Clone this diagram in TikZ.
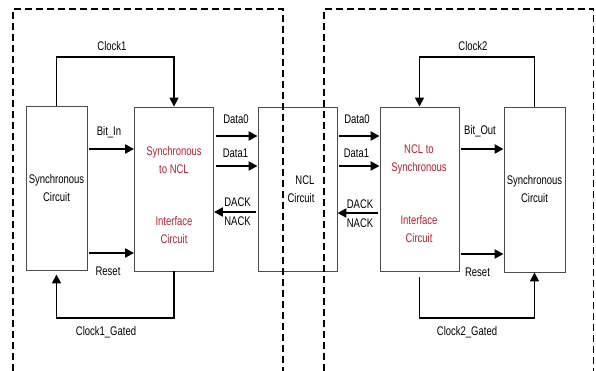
\documentclass[tikz,border=0pt]{standalone}
\usepackage{fontspec}
\setmainfont[FakeStretch=0.76]{Liberation Sans}
\usetikzlibrary{arrows.meta}
\definecolor{ifred}{RGB}{190,30,45}
\tikzset{
  blk/.style={draw=black!70,line width=0.9pt,inner sep=0pt,align=center,font=\fontsize{12.5}{18}\selectfont},
  lbl/.style={inner sep=0pt,align=center,font=\fontsize{12.5}{18}\selectfont},
  redlbl/.style={lbl,text=ifred},
  sig/.style={line width=2.4pt,shorten <=2pt,-{Triangle[length=9pt,width=9pt]}},
  clk/.style={line width=1.6pt,-{Triangle[length=9pt,width=9pt]}},
  frame/.style={line width=1.3pt,dash pattern=on 7pt off 4pt}
}
\begin{document}
\begin{tikzpicture}[x=1pt,y=-1pt]
\useasboundingbox (0,0) rectangle (596,371);
\draw (56.5,188) node[blk,minimum width=61pt,minimum height=164pt](sync1) {Synchronous\\Circuit};
\draw (174,189) node[blk,minimum width=79pt,minimum height=164pt](s2n) {};
\draw (297.5,189) node[blk,minimum width=79pt,minimum height=164pt](ncl) {};
\draw (419.5,189) node[blk,minimum width=79pt,minimum height=164pt](n2s) {};
\draw (534.5,189.5) node[blk,minimum width=61pt,minimum height=165pt](sync2) {Synchronous\\Circuit};
\draw (174,160) node[redlbl](s2ntop) {Synchronous\\to NCL};
\draw (174,230.5) node[redlbl](s2nbot) {Interface\\Circuit};
\draw (301,189) node[lbl,align=right](ncltxt) {NCL\\Circuit};
\draw (419,159.5) node[redlbl](n2stop) {NCL to\\Synchronous};
\draw (419,229.5) node[redlbl](n2sbot) {Interface\\Circuit};
\draw[sig] (sync1.east |- 0,149) -- (s2n.west |- 0,149);
\draw[sig] (sync1.east |- 0,253) -- (s2n.west |- 0,253);
\draw[sig] (s2n.east |- 0,136) -- (ncl.west |- 0,136);
\draw[sig] (s2n.east |- 0,166) -- (ncl.west |- 0,166);
\draw[sig] (ncl.west |- 0,212) -- (s2n.east |- 0,212);
\draw[sig] (ncl.east |- 0,136) -- (n2s.west |- 0,136);
\draw[sig] (ncl.east |- 0,166) -- (n2s.west |- 0,166);
\draw[sig] (n2s.west |- 0,213) -- (ncl.east |- 0,213);
\draw[sig] (n2s.east |- 0,149) -- (sync2.west |- 0,149);
\draw[sig] (n2s.east |- 0,254) -- (sync2.west |- 0,254);
\draw[clk] (sync1.north) -- (sync1.north |- 0,57) -| (s2n.north);
\draw[clk,shorten >=4pt] (s2n.south) -- (s2n.south |- 0,318) -| (sync1.south);
\draw[clk] (sync2.north) -- (sync2.north |- 0,57) -| (n2s.north);
\draw[clk,shorten <=6pt] (n2s.south) -- (n2s.south |- 0,318) -| (sync2.south);
\draw (112,46) node[lbl](lclk1) {Clock1};
\draw (109,132) node[lbl](lbitin) {Bit\_In};
\draw (108,271) node[lbl](lrst1) {Reset};
\draw (106,332) node[lbl](lgate1) {Clock1\_Gated};
\draw (236,119) node[lbl](ld0a) {Data0};
\draw (235.5,153.5) node[lbl](ld1a) {Data1};
\draw (237.5,202) node[lbl](ldacka) {DACK};
\draw (237.5,221) node[lbl](lnacka) {NACK};
\draw (357,119) node[lbl](ld0b) {Data0};
\draw (356.5,153.5) node[lbl](ld1b) {Data1};
\draw (360,204) node[lbl](ldackb) {DACK};
\draw (360,223) node[lbl](lnackb) {NACK};
\draw (473,46) node[lbl](lclk2) {Clock2};
\draw (480,131) node[lbl](lbitout) {Bit\_Out};
\draw (477.5,272) node[lbl](lrst2) {Reset};
\draw (467,332) node[lbl](lgate2) {Clock2\_Gated};
\draw[frame] (13,371) -- (13,9) -- (283,9) -- (283,371);
\draw[frame] (324,371) -- (324,9) -- (593.5,9) -- (593.5,371);
\end{tikzpicture}
\end{document}
